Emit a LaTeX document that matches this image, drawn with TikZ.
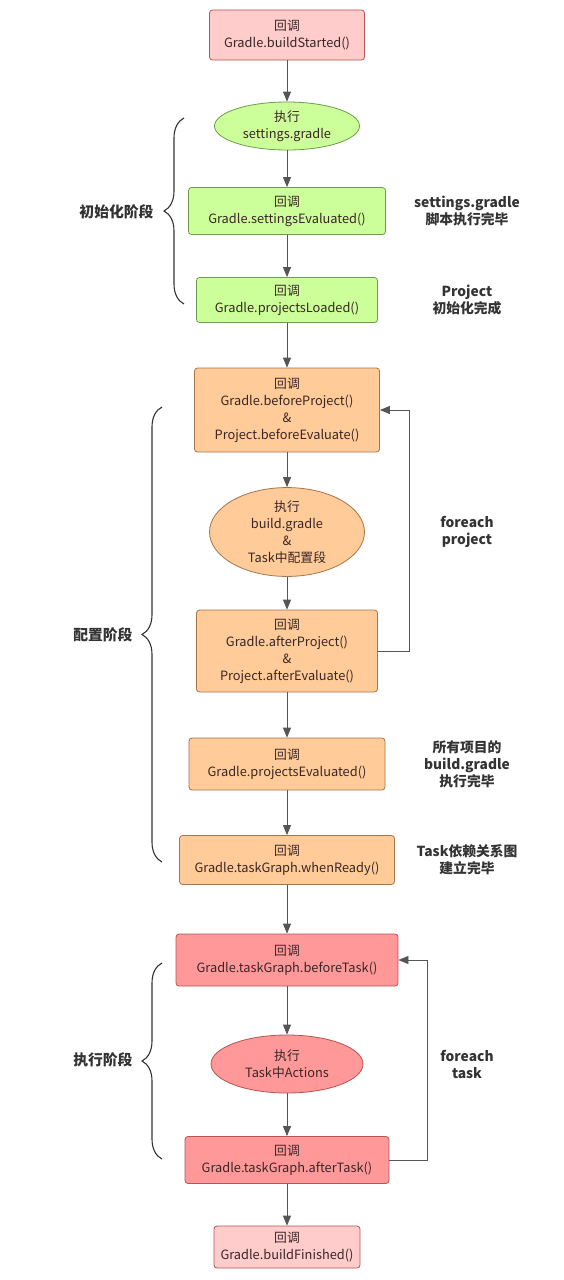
\documentclass[tikz,border=0pt]{standalone}
\usepackage{fontspec}
\setmainfont{Noto Sans CJK SC}
\usetikzlibrary{arrows.meta,shapes.geometric,decorations.pathreplacing}
\definecolor{pinkfill}{HTML}{FFCCCC}
\definecolor{pinkline}{HTML}{B85450}
\definecolor{greenfill}{HTML}{CCFF99}
\definecolor{greenline}{HTML}{6F9A4E}
\definecolor{orangefill}{HTML}{FFCC99}
\definecolor{orangeline}{HTML}{A8744A}
\definecolor{redfill}{HTML}{FF9999}
\definecolor{redline}{HTML}{B85450}
\definecolor{txt}{HTML}{3A2626}
\definecolor{conn}{HTML}{555555}
\definecolor{lab}{HTML}{333333}
\tikzset{
  box/.style={draw, rounded corners=3pt, align=center, font=\fontsize{12.8}{17}\selectfont, text=txt, inner sep=2pt, line width=0.8pt},
  oval/.style={draw, ellipse, align=center, font=\fontsize{12.8}{17}\selectfont, text=txt, inner sep=0pt, line width=0.8pt},
  pinkbox/.style={box, fill=pinkfill, draw=pinkline},
  greenbox/.style={box, fill=greenfill, draw=greenline},
  orangebox/.style={box, fill=orangefill, draw=orangeline},
  redbox/.style={box, fill=redfill, draw=redline},
  arr/.style={draw=conn, line width=0.8pt, -{Triangle[width=8pt,length=10pt]}},
  side/.style={align=center, font=\bfseries\fontsize{13.8}{17}\selectfont, text=lab},
  phase/.style={font=\bfseries\fontsize{14.8}{17}\selectfont, text=lab},
  brc/.style={draw=lab, line width=1.1pt, decorate, decoration={brace, amplitude=20pt}}
}
\begin{document}
\begin{tikzpicture}[x=1pt,y=-1pt]
\useasboundingbox[fill=white] (0,0) rectangle (564,1280);
\node[pinkbox, minimum width=155pt, minimum height=50pt] (n1) at (287,35) {回调\\Gradle.buildStarted()};
\node[oval, fill=greenfill, draw=greenline, minimum width=145pt, minimum height=48pt] (n2) at (287,126) {执行\\settings.gradle};
\node[greenbox, minimum width=197pt, minimum height=47pt] (n3) at (287,211) {回调\\Gradle.settingsEvaluated()};
\node[greenbox, minimum width=181pt, minimum height=45pt] (n4) at (287,300) {回调\\Gradle.projectsLoaded()};
\node[orangebox, minimum width=185pt, minimum height=84pt] (n5) at (287,410) {回调\\Gradle.beforeProject()\\\&\\Project.beforeEvaluate()};
\node[oval, fill=orangefill, draw=orangeline, minimum width=155pt, minimum height=80pt] (n6) at (287,532) {执行\\build.gradle\\\&\\Task中配置段};
\node[orangebox, minimum width=181pt, minimum height=82pt] (n7) at (287,651) {回调\\Gradle.afterProject()\\\&\\Project.afterEvaluate()};
\node[orangebox, minimum width=196pt, minimum height=52pt] (n8) at (287,764) {回调\\Gradle.projectsEvaluated()};
\node[orangebox, minimum width=215pt, minimum height=49pt] (n9) at (287,860) {回调\\Gradle.taskGraph.whenReady()};
\node[redbox, minimum width=222pt, minimum height=52pt] (n10) at (287,960) {回调\\Gradle.taskGraph.beforeTask()};
\node[oval, fill=redfill, draw=redline, minimum width=152pt, minimum height=58pt] (n11) at (287,1064) {执行\\Task中Actions};
\node[redbox, minimum width=204pt, minimum height=47pt] (n12) at (287,1160) {回调\\Gradle.taskGraph.afterTask()};
\node[pinkbox, minimum width=146pt, minimum height=42pt] (n13) at (287,1247) {回调\\Gradle.buildFinished()};

\draw[arr] (n1) -- (n2);
\draw[arr] (n2) -- (n3);
\draw[arr] (n3) -- (n4);
\draw[arr] (n4) -- (n5);
\draw[arr] (n5) -- (n6);
\draw[arr] (n6) -- (n7);
\draw[arr] (n7) -- (n8);
\draw[arr] (n8) -- (n9);
\draw[arr] (n9) -- (n10);
\draw[arr] (n10) -- (n11);
\draw[arr] (n11) -- (n12);
\draw[arr] (n12) -- (n13);

\coordinate (loopA1) at (409,651);
\coordinate (loopA2) at (409,410);
\draw[arr] (n7.east) -- (loopA1) -- (loopA2) -- (n5.east);
\coordinate (loopB1) at (427,1160);
\coordinate (loopB2) at (427,960);
\draw[arr] (n12.east) -- (loopB1) -- (loopB2) -- (n10.east);

\node[side] (s1) at (467,211) {settings.gradle\\脚本执行完毕};
\node[side] (s2) at (467,300) {Project\\初始化完成};
\node[side] (s3) at (467,532) {foreach\\project};
\node[side] (s4) at (467,764) {所有项目的\\build.gradle\\执行完毕};
\node[side] (s5) at (467,860) {Task依赖关系图\\建立完毕};
\node[side] (s6) at (467,1064) {foreach\\task};

\coordinate (b1a) at (184,304);
\coordinate (b1b) at (184,118);
\draw[brc] (b1a) -- (b1b);
\coordinate (b2a) at (162,862);
\coordinate (b2b) at (162,407);
\draw[brc] (b2a) -- (b2b);
\coordinate (b3a) at (162,1159);
\coordinate (b3b) at (162,963);
\draw[brc] (b3a) -- (b3b);

\node[phase, anchor=east] (p1) at (157,212) {初始化阶段};
\node[phase, anchor=east] (p2) at (136,635) {配置阶段};
\node[phase, anchor=east] (p3) at (136,1060) {执行阶段};
\end{tikzpicture}
\end{document}
